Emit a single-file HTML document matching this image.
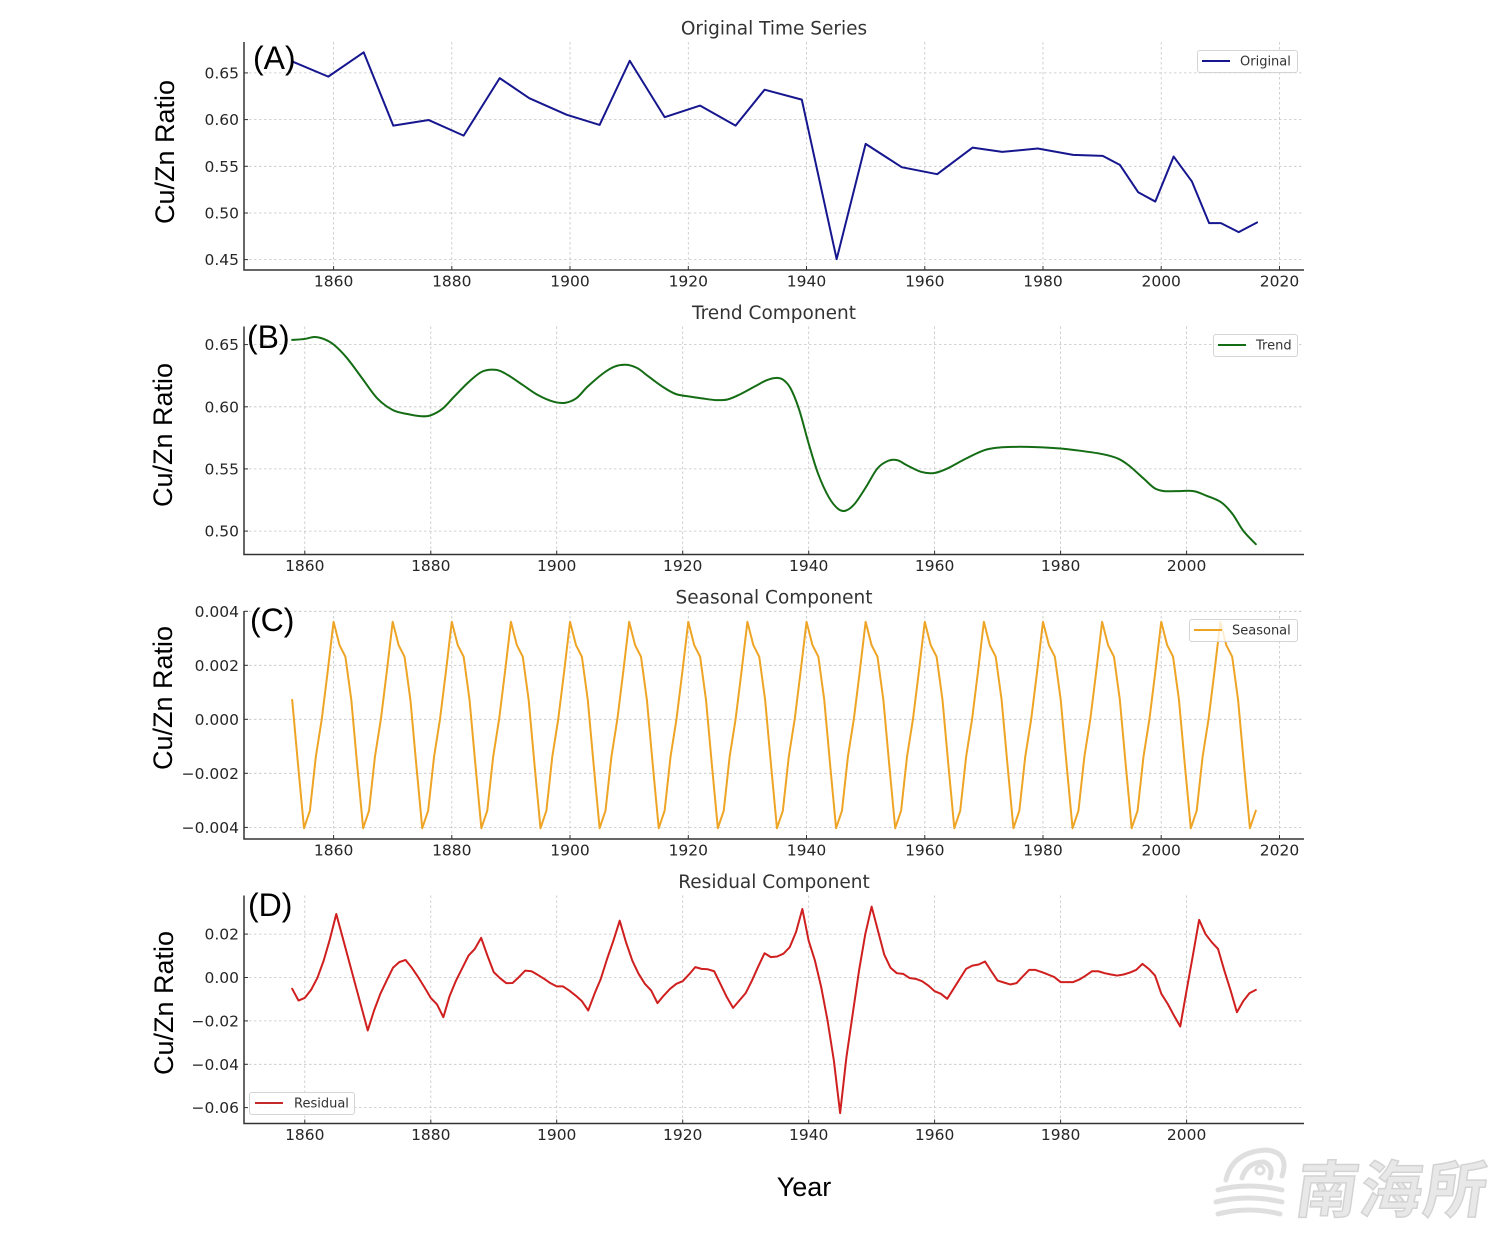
<!DOCTYPE html>
<html>
<head>
<meta charset="utf-8">
<style>
  html, body { margin: 0; padding: 0; background: #ffffff; }
  svg { display: block; }
  .tick { font-family: "DejaVu Sans", "Liberation Sans", sans-serif; font-size: 15.5px; fill: #262626; }
  .title { font-family: "DejaVu Sans", "Liberation Sans", sans-serif; font-size: 18.5px; fill: #333333; }
  .ylab { font-family: "Liberation Sans", sans-serif; font-size: 27px; fill: #000; }
  .plab { font-family: "Liberation Sans", sans-serif; font-size: 32px; fill: #000; }
  .leg { font-family: "DejaVu Sans", "Liberation Sans", sans-serif; font-size: 13px; fill: #333; }
  .grid { stroke: #c4c4c4; stroke-width: 0.8; stroke-dasharray: 2.5 2.5; fill: none; }
  .spine { stroke: #333; stroke-width: 1.5; fill: none; }
  .tk { stroke: #333; stroke-width: 1; }
  .series { fill: none; stroke-width: 2; stroke-linejoin: round; stroke-linecap: round; }
</style>
</head>
<body>
<svg id="fig" width="1500" height="1246" viewBox="0 0 1500 1246" xmlns="http://www.w3.org/2000/svg">
<rect width="1500" height="1246" fill="#fff"/>

<!-- ================= Panel A ================= -->
<g>
  <g class="grid">
    <line x1="333.6" y1="42" x2="333.6" y2="270"/>
    <line x1="451.8" y1="42" x2="451.8" y2="270"/>
    <line x1="570.0" y1="42" x2="570.0" y2="270"/>
    <line x1="688.3" y1="42" x2="688.3" y2="270"/>
    <line x1="806.5" y1="42" x2="806.5" y2="270"/>
    <line x1="924.8" y1="42" x2="924.8" y2="270"/>
    <line x1="1043.0" y1="42" x2="1043.0" y2="270"/>
    <line x1="1161.2" y1="42" x2="1161.2" y2="270"/>
    <line x1="1279.5" y1="42" x2="1279.5" y2="270"/>
    <line x1="244" y1="259.6" x2="1304" y2="259.6"/>
    <line x1="244" y1="213.0" x2="1304" y2="213.0"/>
    <line x1="244" y1="166.3" x2="1304" y2="166.3"/>
    <line x1="244" y1="119.6" x2="1304" y2="119.6"/>
    <line x1="244" y1="72.9" x2="1304" y2="72.9"/>
  </g>
  <g class="tk">
    <line x1="333.6" y1="270" x2="333.6" y2="266"/><line x1="451.8" y1="270" x2="451.8" y2="266"/>
    <line x1="570.0" y1="270" x2="570.0" y2="266"/><line x1="688.3" y1="270" x2="688.3" y2="266"/>
    <line x1="806.5" y1="270" x2="806.5" y2="266"/><line x1="924.8" y1="270" x2="924.8" y2="266"/>
    <line x1="1043.0" y1="270" x2="1043.0" y2="266"/><line x1="1161.2" y1="270" x2="1161.2" y2="266"/>
    <line x1="1279.5" y1="270" x2="1279.5" y2="266"/>
    <line x1="244" y1="259.6" x2="248" y2="259.6"/><line x1="244" y1="213.0" x2="248" y2="213.0"/>
    <line x1="244" y1="166.3" x2="248" y2="166.3"/><line x1="244" y1="119.6" x2="248" y2="119.6"/>
    <line x1="244" y1="72.9" x2="248" y2="72.9"/>
  </g>
  <polyline class="series" stroke="#16168f" vector-effect="non-scaling-stroke"
    transform="translate(244 270) scale(5.9119 -933.7) translate(-1844.85 -0.4389)"
    points="1853.1,0.662 1859.1,0.646 1865.1,0.672 1870.1,0.5935 1876.1,0.5995 1882,0.5828 1888.1,0.6444 1893.1,0.6229 1899.4,0.6052 1905,0.5943 1910.1,0.663 1916,0.6026 1922,0.615 1928,0.5935 1932.9,0.632 1939.2,0.6214 1945.1,0.4505 1950,0.574 1956.1,0.549 1962.1,0.5415 1968.1,0.570 1973.1,0.5654 1979.1,0.569 1985.1,0.5622 1990.1,0.5611 1993,0.5515 1996.1,0.5222 1999,0.5122 2002.1,0.5604 2005.2,0.5336 2008.1,0.4891 2010.1,0.4891 2013.1,0.4795 2016.2,0.4898"/>
  <path class="spine" d="M244 42 V270 H1304"/>
  <g class="tick" text-anchor="middle">
    <text x="333.6" y="286.5">1860</text><text x="451.8" y="286.5">1880</text>
    <text x="570.0" y="286.5">1900</text><text x="688.3" y="286.5">1920</text>
    <text x="806.5" y="286.5">1940</text><text x="924.8" y="286.5">1960</text>
    <text x="1043.0" y="286.5">1980</text><text x="1161.2" y="286.5">2000</text>
    <text x="1279.5" y="286.5">2020</text>
  </g>
  <g class="tick" text-anchor="end">
    <text x="239" y="265.2">0.45</text><text x="239" y="218.6">0.50</text>
    <text x="239" y="171.9">0.55</text><text x="239" y="125.2">0.60</text>
    <text x="239" y="78.5">0.65</text>
  </g>
  <text class="title" x="774" y="34.5" text-anchor="middle">Original Time Series</text>
  <rect x="1197.5" y="50.5" width="100" height="22" rx="2.5" fill="#fff" fill-opacity="0.85" stroke="#d4d4d4" stroke-width="1"/>
  <line x1="1202" y1="61" x2="1230" y2="61" stroke="#16168f" stroke-width="2"/>
  <text class="leg" x="1240" y="65.6">Original</text>
  <text class="plab" x="253" y="69">(A)</text>
</g>

<!-- ================= Panel B ================= -->
<g>
  <g class="grid">
    <line x1="304.8" y1="326.5" x2="304.8" y2="554.5"/>
    <line x1="430.8" y1="326.5" x2="430.8" y2="554.5"/>
    <line x1="556.7" y1="326.5" x2="556.7" y2="554.5"/>
    <line x1="682.7" y1="326.5" x2="682.7" y2="554.5"/>
    <line x1="808.7" y1="326.5" x2="808.7" y2="554.5"/>
    <line x1="934.6" y1="326.5" x2="934.6" y2="554.5"/>
    <line x1="1060.6" y1="326.5" x2="1060.6" y2="554.5"/>
    <line x1="1186.6" y1="326.5" x2="1186.6" y2="554.5"/>
    <line x1="244" y1="531.1" x2="1304" y2="531.1"/>
    <line x1="244" y1="468.9" x2="1304" y2="468.9"/>
    <line x1="244" y1="406.8" x2="1304" y2="406.8"/>
    <line x1="244" y1="344.6" x2="1304" y2="344.6"/>
  </g>
  <g class="tk">
    <line x1="304.8" y1="554.5" x2="304.8" y2="550.5"/><line x1="430.8" y1="554.5" x2="430.8" y2="550.5"/>
    <line x1="556.7" y1="554.5" x2="556.7" y2="550.5"/><line x1="682.7" y1="554.5" x2="682.7" y2="550.5"/>
    <line x1="808.7" y1="554.5" x2="808.7" y2="550.5"/><line x1="934.6" y1="554.5" x2="934.6" y2="550.5"/>
    <line x1="1060.6" y1="554.5" x2="1060.6" y2="550.5"/><line x1="1186.6" y1="554.5" x2="1186.6" y2="550.5"/>
    <line x1="244" y1="531.1" x2="248" y2="531.1"/><line x1="244" y1="468.9" x2="248" y2="468.9"/>
    <line x1="244" y1="406.8" x2="248" y2="406.8"/><line x1="244" y1="344.6" x2="248" y2="344.6"/>
  </g>
  <polyline id="trend" class="series" stroke="#146c14" vector-effect="non-scaling-stroke"
    transform="translate(244 554.5) scale(6.2983 -1243.2) translate(-1850.35 -0.4812)"
    points="1858,0.6538 1860,0.6546 1861.5,0.6562 1863,0.6546 1864.6,0.650 1866.7,0.6392 1869.1,0.623 1871.5,0.6068 1874,0.5973 1876.4,0.5941 1878.5,0.5924 1880,0.5932 1881.9,0.5986 1883.7,0.6081 1886.1,0.6203 1888.2,0.6284 1890.4,0.6297 1892.2,0.6257 1894.6,0.6176 1897,0.6095 1899.5,0.6041 1901.3,0.6032 1903.1,0.6068 1904.9,0.6162 1907.4,0.627 1909.2,0.6324 1911,0.6338 1912.8,0.6311 1914.6,0.6243 1916.8,0.6162 1918.9,0.6103 1921.3,0.6081 1923.1,0.6068 1925.2,0.6054 1927.1,0.6059 1929.1,0.6100 1931.5,0.6165 1933.2,0.6211 1934.7,0.6232 1935.9,0.6219 1937.1,0.6151 1938.5,0.5976 1940,0.5705 1941.5,0.5462 1943.2,0.5273 1944.7,0.5178 1945.9,0.5165 1947.3,0.5219 1949.1,0.5354 1950.9,0.5503 1952.6,0.5565 1954.1,0.557 1955.6,0.553 1957.9,0.5476 1960,0.5468 1962,0.5503 1965,0.5584 1967.9,0.5651 1970.3,0.5673 1972.6,0.5678 1976.1,0.5676 1980,0.5665 1983.2,0.5646 1986.7,0.5619 1989.1,0.5584 1990.8,0.553 1993.2,0.5422 1994.9,0.5346 1996.4,0.5322 1998.4,0.5322 2001.1,0.5322 2003.1,0.5286 2005.5,0.5232 2007.3,0.5138 2009,0.5003 2011,0.4895"/>
  <path class="spine" d="M244 326.5 V554.5 H1304"/>
  <g class="tick" text-anchor="middle">
    <text x="304.8" y="571">1860</text><text x="430.8" y="571">1880</text>
    <text x="556.7" y="571">1900</text><text x="682.7" y="571">1920</text>
    <text x="808.7" y="571">1940</text><text x="934.6" y="571">1960</text>
    <text x="1060.6" y="571">1980</text><text x="1186.6" y="571">2000</text>
  </g>
  <g class="tick" text-anchor="end">
    <text x="239" y="536.7">0.50</text><text x="239" y="474.5">0.55</text>
    <text x="239" y="412.4">0.60</text><text x="239" y="350.2">0.65</text>
  </g>
  <text class="title" x="774" y="319" text-anchor="middle">Trend Component</text>
  <rect x="1213.5" y="334.5" width="84" height="22" rx="2.5" fill="#fff" fill-opacity="0.85" stroke="#d4d4d4" stroke-width="1"/>
  <line x1="1218" y1="345" x2="1246" y2="345" stroke="#146c14" stroke-width="2"/>
  <text class="leg" x="1256" y="349.6">Trend</text>
  <text class="plab" x="247" y="348">(B)</text>
</g>

<!-- ================= Panel C ================= -->
<g>
  <g class="grid">
    <line x1="333.6" y1="611" x2="333.6" y2="839"/>
    <line x1="451.8" y1="611" x2="451.8" y2="839"/>
    <line x1="570.0" y1="611" x2="570.0" y2="839"/>
    <line x1="688.3" y1="611" x2="688.3" y2="839"/>
    <line x1="806.5" y1="611" x2="806.5" y2="839"/>
    <line x1="924.8" y1="611" x2="924.8" y2="839"/>
    <line x1="1043.0" y1="611" x2="1043.0" y2="839"/>
    <line x1="1161.2" y1="611" x2="1161.2" y2="839"/>
    <line x1="1279.5" y1="611" x2="1279.5" y2="839"/>
    <line x1="244" y1="827.4" x2="1304" y2="827.4"/>
    <line x1="244" y1="773.3" x2="1304" y2="773.3"/>
    <line x1="244" y1="719.3" x2="1304" y2="719.3"/>
    <line x1="244" y1="665.3" x2="1304" y2="665.3"/>
    <line x1="244" y1="611.3" x2="1304" y2="611.3"/>
  </g>
  <g class="tk">
    <line x1="333.6" y1="839" x2="333.6" y2="835"/><line x1="451.8" y1="839" x2="451.8" y2="835"/>
    <line x1="570.0" y1="839" x2="570.0" y2="835"/><line x1="688.3" y1="839" x2="688.3" y2="835"/>
    <line x1="806.5" y1="839" x2="806.5" y2="835"/><line x1="924.8" y1="839" x2="924.8" y2="835"/>
    <line x1="1043.0" y1="839" x2="1043.0" y2="835"/><line x1="1161.2" y1="839" x2="1161.2" y2="835"/>
    <line x1="1279.5" y1="839" x2="1279.5" y2="835"/>
    <line x1="244" y1="827.4" x2="248" y2="827.4"/><line x1="244" y1="773.3" x2="248" y2="773.3"/>
    <line x1="244" y1="719.3" x2="248" y2="719.3"/><line x1="244" y1="665.3" x2="248" y2="665.3"/>
    <line x1="244" y1="611.3" x2="248" y2="611.3"/>
  </g>
  <polyline class="series" stroke="#eea424" vector-effect="non-scaling-stroke"
    transform="translate(244 839) scale(5.9119 -27.014) translate(-1844.85 4.43)"
    points="1853,0.72 1854,-1.7 1855,-4.03 1856,-3.38 1857,-1.38 1858,0 1859,1.76
1860,3.61 1861,2.75 1862,2.32 1863,0.72 1864,-1.7 1865,-4.03 1866,-3.38 1867,-1.38 1868,0 1869,1.76
1870,3.61 1871,2.75 1872,2.32 1873,0.72 1874,-1.7 1875,-4.03 1876,-3.38 1877,-1.38 1878,0 1879,1.76
1880,3.61 1881,2.75 1882,2.32 1883,0.72 1884,-1.7 1885,-4.03 1886,-3.38 1887,-1.38 1888,0 1889,1.76
1890,3.61 1891,2.75 1892,2.32 1893,0.72 1894,-1.7 1895,-4.03 1896,-3.38 1897,-1.38 1898,0 1899,1.76
1900,3.61 1901,2.75 1902,2.32 1903,0.72 1904,-1.7 1905,-4.03 1906,-3.38 1907,-1.38 1908,0 1909,1.76
1910,3.61 1911,2.75 1912,2.32 1913,0.72 1914,-1.7 1915,-4.03 1916,-3.38 1917,-1.38 1918,0 1919,1.76
1920,3.61 1921,2.75 1922,2.32 1923,0.72 1924,-1.7 1925,-4.03 1926,-3.38 1927,-1.38 1928,0 1929,1.76
1930,3.61 1931,2.75 1932,2.32 1933,0.72 1934,-1.7 1935,-4.03 1936,-3.38 1937,-1.38 1938,0 1939,1.76
1940,3.61 1941,2.75 1942,2.32 1943,0.72 1944,-1.7 1945,-4.03 1946,-3.38 1947,-1.38 1948,0 1949,1.76
1950,3.61 1951,2.75 1952,2.32 1953,0.72 1954,-1.7 1955,-4.03 1956,-3.38 1957,-1.38 1958,0 1959,1.76
1960,3.61 1961,2.75 1962,2.32 1963,0.72 1964,-1.7 1965,-4.03 1966,-3.38 1967,-1.38 1968,0 1969,1.76
1970,3.61 1971,2.75 1972,2.32 1973,0.72 1974,-1.7 1975,-4.03 1976,-3.38 1977,-1.38 1978,0 1979,1.76
1980,3.61 1981,2.75 1982,2.32 1983,0.72 1984,-1.7 1985,-4.03 1986,-3.38 1987,-1.38 1988,0 1989,1.76
1990,3.61 1991,2.75 1992,2.32 1993,0.72 1994,-1.7 1995,-4.03 1996,-3.38 1997,-1.38 1998,0 1999,1.76
2000,3.61 2001,2.75 2002,2.32 2003,0.72 2004,-1.7 2005,-4.03 2006,-3.38 2007,-1.38 2008,0 2009,1.76
2010,3.61 2011,2.75 2012,2.32 2013,0.72 2014,-1.7 2015,-4.03 2016,-3.38"/>
  <path class="spine" d="M244 611 V839 H1304"/>
  <g class="tick" text-anchor="middle">
    <text x="333.6" y="855.5">1860</text><text x="451.8" y="855.5">1880</text>
    <text x="570.0" y="855.5">1900</text><text x="688.3" y="855.5">1920</text>
    <text x="806.5" y="855.5">1940</text><text x="924.8" y="855.5">1960</text>
    <text x="1043.0" y="855.5">1980</text><text x="1161.2" y="855.5">2000</text>
    <text x="1279.5" y="855.5">2020</text>
  </g>
  <g class="tick" text-anchor="end">
    <text x="239" y="833">−0.004</text><text x="239" y="778.9">−0.002</text>
    <text x="239" y="724.9">0.000</text><text x="239" y="670.9">0.002</text>
    <text x="239" y="616.9">0.004</text>
  </g>
  <text class="title" x="774" y="603.5" text-anchor="middle">Seasonal Component</text>
  <rect x="1189.5" y="619.5" width="108" height="22" rx="2.5" fill="#fff" fill-opacity="0.8" stroke="#d4d4d4" stroke-width="1"/>
  <line x1="1194" y1="630" x2="1222" y2="630" stroke="#eea424" stroke-width="2"/>
  <text class="leg" x="1232" y="634.6">Seasonal</text>
  <text class="plab" x="250" y="631">(C)</text>
</g>

<!-- ================= Panel D ================= -->
<g>
  <g class="grid">
    <line x1="304.8" y1="895.5" x2="304.8" y2="1123.5"/>
    <line x1="430.8" y1="895.5" x2="430.8" y2="1123.5"/>
    <line x1="556.7" y1="895.5" x2="556.7" y2="1123.5"/>
    <line x1="682.7" y1="895.5" x2="682.7" y2="1123.5"/>
    <line x1="808.7" y1="895.5" x2="808.7" y2="1123.5"/>
    <line x1="934.6" y1="895.5" x2="934.6" y2="1123.5"/>
    <line x1="1060.6" y1="895.5" x2="1060.6" y2="1123.5"/>
    <line x1="1186.6" y1="895.5" x2="1186.6" y2="1123.5"/>
    <line x1="244" y1="1107.6" x2="1304" y2="1107.6"/>
    <line x1="244" y1="1064.3" x2="1304" y2="1064.3"/>
    <line x1="244" y1="1020.9" x2="1304" y2="1020.9"/>
    <line x1="244" y1="977.5" x2="1304" y2="977.5"/>
    <line x1="244" y1="934.1" x2="1304" y2="934.1"/>
  </g>
  <g class="tk">
    <line x1="304.8" y1="1123.5" x2="304.8" y2="1119.5"/><line x1="430.8" y1="1123.5" x2="430.8" y2="1119.5"/>
    <line x1="556.7" y1="1123.5" x2="556.7" y2="1119.5"/><line x1="682.7" y1="1123.5" x2="682.7" y2="1119.5"/>
    <line x1="808.7" y1="1123.5" x2="808.7" y2="1119.5"/><line x1="934.6" y1="1123.5" x2="934.6" y2="1119.5"/>
    <line x1="1060.6" y1="1123.5" x2="1060.6" y2="1119.5"/><line x1="1186.6" y1="1123.5" x2="1186.6" y2="1119.5"/>
    <line x1="244" y1="1107.6" x2="248" y2="1107.6"/><line x1="244" y1="1064.3" x2="248" y2="1064.3"/>
    <line x1="244" y1="1020.9" x2="248" y2="1020.9"/><line x1="244" y1="977.5" x2="248" y2="977.5"/>
    <line x1="244" y1="934.1" x2="248" y2="934.1"/>
  </g>
  <polyline class="series" stroke="#d01f1f" vector-effect="non-scaling-stroke"
    transform="translate(244 1123.5) scale(6.2983 -21.69) translate(-1850.35 6.73)"
    points="1858,-0.52 1859,-1.06 1860,-0.94 1861,-0.57 1862,-0.02 1863,0.78 1864,1.78 1865,2.93 1866,1.86 1867,0.78 1868,-0.30 1869,-1.37 1870,-2.44 1871,-1.52 1872,-0.75 1873,-0.14 1874,0.45 1875,0.71 1876,0.81 1877,0.45 1878,0.02 1879,-0.45 1880,-0.94 1881,-1.24 1882,-1.83 1883,-0.85 1884,-0.15 1885,0.43 1886,1.01 1887,1.32 1888,1.83 1889,1.01 1890,0.25 1891,-0.03 1892,-0.26 1893,-0.25 1894,0.02 1895,0.32 1896,0.29 1897,0.12 1898,-0.06 1899,-0.26 1900,-0.41 1901,-0.41 1902,-0.60 1903,-0.83 1904,-1.09 1905,-1.52 1906,-0.75 1907,-0.06 1908,0.86 1909,1.70 1910,2.62 1911,1.63 1912,0.78 1913,0.17 1914,-0.29 1915,-0.60 1916,-1.18 1917,-0.83 1918,-0.52 1919,-0.29 1920,-0.17 1921,0.14 1922,0.48 1923,0.40 1924,0.38 1925,0.29 1926,-0.30 1927,-0.90 1928,-1.40 1929,-1.06 1930,-0.72 1931,-0.14 1932,0.51 1933,1.12 1934,0.94 1935,0.97 1936,1.10 1937,1.40 1938,2.10 1939,3.16 1940,1.70 1941,0.78 1942,-0.45 1943,-1.98 1944,-3.82 1945,-6.25 1946,-3.67 1947,-1.67 1948,0.32 1949,2.01 1950,3.27 1951,2.16 1952,1.06 1953,0.45 1954,0.20 1955,0.17 1956,-0.02 1957,-0.06 1958,-0.17 1959,-0.37 1960,-0.63 1961,-0.75 1962,-0.98 1963,-0.52 1964,-0.06 1965,0.40 1966,0.55 1967,0.60 1968,0.74 1969,0.29 1970,-0.14 1971,-0.23 1972,-0.32 1973,-0.26 1974,0.05 1975,0.35 1976,0.35 1977,0.25 1978,0.14 1979,0.02 1980,-0.21 1981,-0.21 1982,-0.21 1983,-0.09 1984,0.09 1985,0.29 1986,0.29 1987,0.20 1988,0.14 1989,0.09 1990,0.14 1991,0.23 1992,0.35 1993,0.63 1994,0.40 1995,0.09 1996,-0.75 1997,-1.21 1998,-1.75 1999,-2.26 2000,-0.61 2001,1.01 2002,2.66 2003,2.01 2004,1.63 2005,1.32 2006,0.32 2007,-0.60 2008,-1.60 2009,-1.09 2010,-0.72 2011,-0.57"/>
  <path class="spine" d="M244 895.5 V1123.5 H1304"/>
  <g class="tick" text-anchor="middle">
    <text x="304.8" y="1140">1860</text><text x="430.8" y="1140">1880</text>
    <text x="556.7" y="1140">1900</text><text x="682.7" y="1140">1920</text>
    <text x="808.7" y="1140">1940</text><text x="934.6" y="1140">1960</text>
    <text x="1060.6" y="1140">1980</text><text x="1186.6" y="1140">2000</text>
  </g>
  <g class="tick" text-anchor="end">
    <text x="239" y="1113.2">−0.06</text><text x="239" y="1069.9">−0.04</text>
    <text x="239" y="1026.5">−0.02</text><text x="239" y="983.1">0.00</text>
    <text x="239" y="939.7">0.02</text>
  </g>
  <text class="title" x="774" y="888" text-anchor="middle">Residual Component</text>
  <rect x="249.5" y="1092.5" width="105" height="22" rx="2.5" fill="#fff" fill-opacity="0.85" stroke="#d4d4d4" stroke-width="1"/>
  <line x1="255" y1="1103" x2="283" y2="1103" stroke="#c42a2a" stroke-width="2"/>
  <text class="leg" x="294" y="1107.6">Residual</text>
  <text class="plab" x="248" y="916">(D)</text>
</g>

<!-- Y axis labels -->
<text class="ylab" transform="translate(174 152) rotate(-90)" text-anchor="middle">Cu/Zn Ratio</text>
<text class="ylab" transform="translate(172 435) rotate(-90)" text-anchor="middle">Cu/Zn Ratio</text>
<text class="ylab" transform="translate(172 698) rotate(-90)" text-anchor="middle">Cu/Zn Ratio</text>
<text class="ylab" transform="translate(173 1003) rotate(-90)" text-anchor="middle">Cu/Zn Ratio</text>

<!-- X label -->
<text class="ylab" x="804" y="1196" text-anchor="middle">Year</text>

<!-- Watermark -->
<g opacity="0.9">
  <g fill="none" stroke="#dcdcdc" stroke-width="5" stroke-linecap="round">
    <path d="M1218 1190 Q1248 1182 1282 1190"/>
    <path d="M1216 1202 Q1248 1194 1282 1202"/>
    <path d="M1218 1214 Q1248 1206 1280 1214"/>
    <path d="M1226 1180 Q1232 1152 1266 1150 Q1290 1152 1282 1176"/>
    <path d="M1242 1178 Q1247 1162 1264 1162 Q1274 1166 1270 1178"/>
  </g>
  <circle cx="1260" cy="1170" r="4" fill="none" stroke="#dcdcdc" stroke-width="3"/>
  <text x="1294" y="1212" transform="skewX(-8) translate(170 0)" font-family="'Noto Sans CJK SC', 'WenQuanYi Zen Hei', sans-serif" font-weight="bold" font-size="62" fill="#e6e6e6" stroke="#cfcfcf" stroke-width="1.5" letter-spacing="2">南海所</text>
</g>
</svg>
<script>
(function(){
  try {
    var pl = document.getElementById('trend');
    if (!pl) return;
    var raw = pl.getAttribute('points').trim().split(/\s+/);
    var p = raw.map(function(s){ var a = s.split(','); return [parseFloat(a[0]), parseFloat(a[1])]; });
    if (p.length < 3) return;
    var d = 'M' + p[0][0] + ' ' + p[0][1];
    for (var i = 0; i < p.length - 1; i++) {
      var p0 = p[i === 0 ? 0 : i - 1], p1 = p[i], p2 = p[i + 1], p3 = p[i + 2 < p.length ? i + 2 : p.length - 1];
      var c1x = p1[0] + (p2[0] - p0[0]) / 6, c1y = p1[1] + (p2[1] - p0[1]) / 6;
      var c2x = p2[0] - (p3[0] - p1[0]) / 6, c2y = p2[1] - (p3[1] - p1[1]) / 6;
      d += ' C' + c1x + ' ' + c1y + ' ' + c2x + ' ' + c2y + ' ' + p2[0] + ' ' + p2[1];
    }
    var ns = 'http://www.w3.org/2000/svg';
    var path = document.createElementNS(ns, 'path');
    path.setAttribute('d', d);
    path.setAttribute('class', 'series');
    path.setAttribute('stroke', pl.getAttribute('stroke'));
    path.setAttribute('vector-effect', 'non-scaling-stroke');
    path.setAttribute('transform', pl.getAttribute('transform'));
    pl.parentNode.insertBefore(path, pl);
    pl.parentNode.removeChild(pl);
  } catch (e) {}
})();
</script>
</body>
</html>
